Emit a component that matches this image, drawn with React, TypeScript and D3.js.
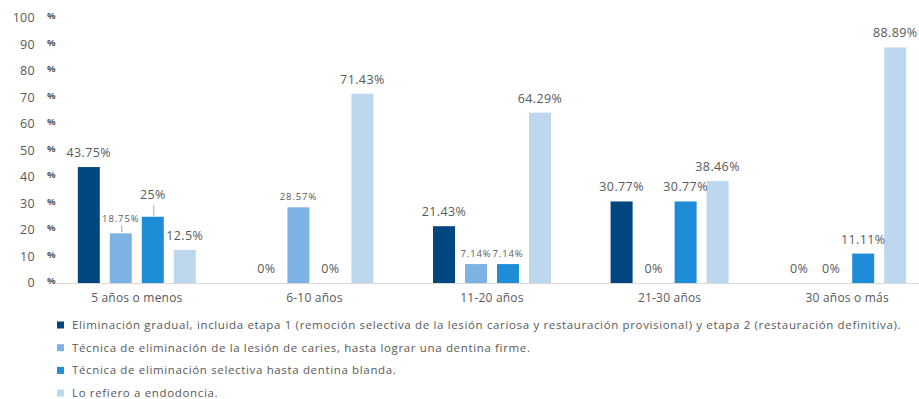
import React from "react";
import * as d3 from "d3";

const categories = ["5 años o menos", "6-10 años", "11-20 años", "21-30 años", "30 años o más"];
const seriesNames = [
  "Eliminación gradual, incluida etapa 1 (remoción selectiva de la lesión cariosa y restauración provisional) y etapa 2 (restauración definitiva).",
  "Técnica de eliminación de la lesión de caries, hasta lograr una dentina firme.",
  "Técnica de eliminación selectiva hasta dentina blanda.",
  "Lo refiero a endodoncia.",
];
const gradual = [43.75, 0, 21.43, 30.77, 0];
const firme = [18.75, 28.57, 7.14, 0, 0];
const blanda = [25, 0, 7.14, 30.77, 11.11];
const endodoncia = [12.5, 71.43, 64.29, 38.46, 88.89];
const yTicks = [0, 10, 20, 30, 40, 50, 60, 70, 80, 90, 100];

const series = [gradual, firme, blanda, endodoncia];
const colors = ["#00467F", "#7EB2E4", "#1E8CD7", "#BDD7EE"];
// label styling: small labels and labels with leader lines (series-category keys)
const smallLabels = new Set(["1-0", "1-1", "1-2", "2-2"]);
const leaderLift: Record<string, number> = { "1-0": 12, "2-0": 16 };

const W = 919;
const H = 399;
const FONT = "'Open Sans', sans-serif";
const TXT = "#595959";

export default function App() {
  const x = d3.scaleBand<string>().domain(categories).range([48, 936]).paddingInner(0).paddingOuter(0);
  const inner = d3
    .scaleBand<number>()
    .domain([0, 1, 2, 3])
    .range([-59, 59])
    .paddingInner(0.3125)
    .paddingOuter(0);
  const y = d3.scaleLinear().domain([0, 100]).range([283, 18]);
  const bw = inner.bandwidth();

  return (
    <svg width={W} height={H} style={{ position: "absolute", left: 0, top: 0, background: "#fff" }} fontFamily={FONT}>
      {/* y tick labels */}
      {yTicks.map((t) => (
        <g key={t}>
          <text x={35} y={y(t)} dy="0.35em" textAnchor="end" fontSize={12.5} fill={TXT} letterSpacing={0.3}>
            {t}
          </text>
          <text x={47} y={y(t) - 2} dy="0.35em" fontSize={9.5} fontWeight="bold" fill={TXT}>
            %
          </text>
        </g>
      ))}
      {/* bars */}
      {series.map((vals, si) =>
        vals.map((v, ci) => {
          const cx = (x(categories[ci]) as number) + x.bandwidth() / 2;
          const bx = cx + (inner(si) as number);
          return (
            <rect key={`b${si}-${ci}`} x={bx} y={y(v)} width={bw} height={y(0) - y(v)} fill={colors[si]} />
          );
        })
      )}
      {/* axis line */}
      <line x1={57} x2={W} y1={y(0) + 0.5} y2={y(0) + 0.5} stroke="#D9D9D9" strokeWidth={1} />
      {/* data labels */}
      {series.map((vals, si) =>
        vals.map((v, ci) => {
          const key = `${si}-${ci}`;
          const cx = (x(categories[ci]) as number) + x.bandwidth() / 2;
          const bcx = cx + (inner(si) as number) + bw / 2;
          const small = smallLabels.has(key);
          const lift = leaderLift[key] || 0;
          const top = y(v);
          const base = top - (small ? 7 : 10) - (lift ? lift - 8 : 0);
          return (
            <g key={`l${key}`}>
              {lift ? (
                <line x1={bcx + 1} x2={bcx + 1} y1={top - (lift - 4)} y2={top - 1} stroke="#A6A6A6" strokeWidth={1} />
              ) : null}
              <text
                x={bcx}
                y={base}
                textAnchor="middle"
                fontSize={small ? 9.5 : 12.5}
                fill={TXT}
                letterSpacing={small ? 0.9 : 0.4}
              >
                {`${v}%`}
              </text>
            </g>
          );
        })
      )}
      {/* category labels */}
      {categories.map((c) => (
        <text
          key={c}
          x={(x(c) as number) + x.bandwidth() / 2}
          y={302}
          textAnchor="middle"
          fontSize={12}
          fill={TXT}
          letterSpacing={0.2}
        >
          {c}
        </text>
      ))}
      {/* legend */}
      {seriesNames.map((n, i) => {
        const cy = 325 + i * 22.7;
        return (
          <g key={n}>
            <rect x={57} y={cy - 3.5} width={7} height={7} fill={colors[i]} />
            <text x={72} y={cy} dy="0.35em" fontSize={11.5} fill={TXT} letterSpacing={0.65}>
              {n}
            </text>
          </g>
        );
      })}
    </svg>
  );
}
